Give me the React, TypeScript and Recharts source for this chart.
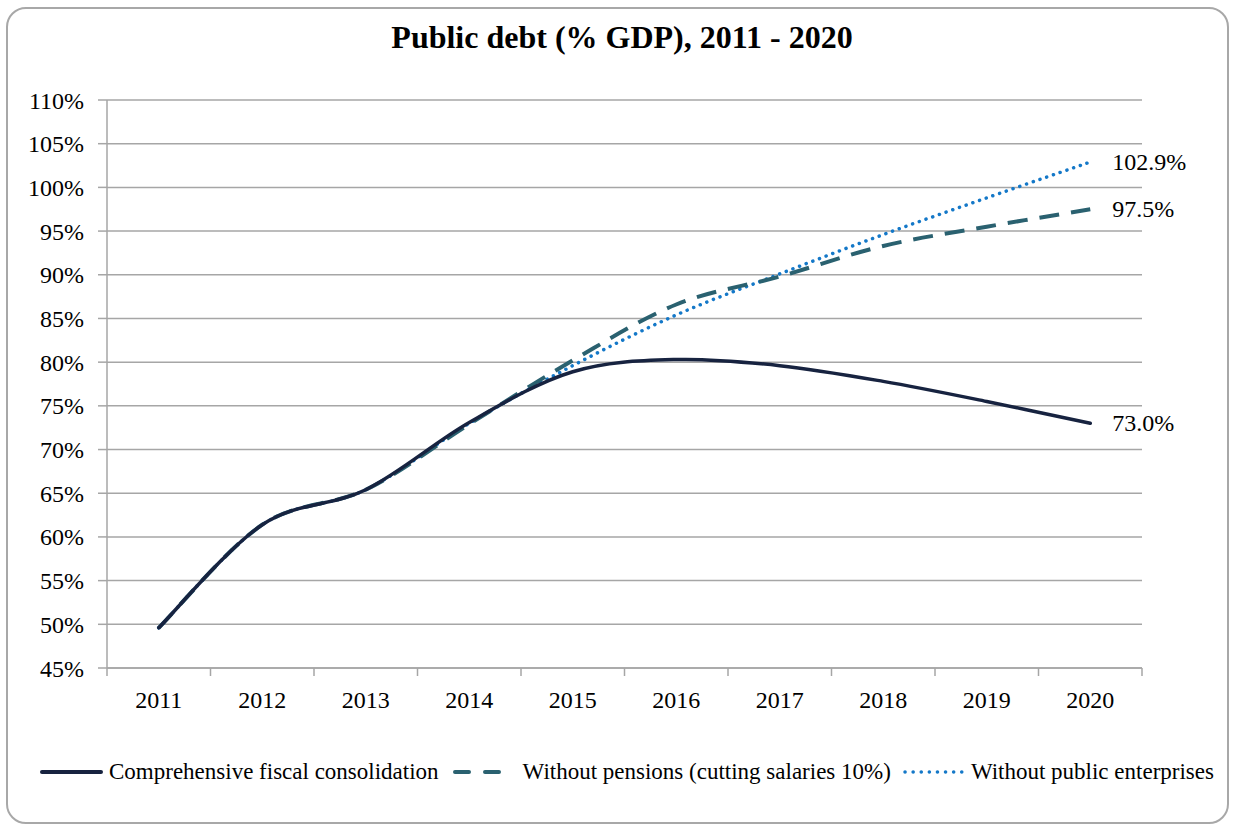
import React from "react";
import { LineChart, Line, XAxis, YAxis, CartesianGrid } from "recharts";

const years = ["2011", "2012", "2013", "2014", "2015", "2016", "2017", "2018", "2019", "2020"];
const comprehensive = [49.6, 61.4, 65.4, 73.1, 78.9, 80.3, 79.6, 77.8, 75.5, 73.0];
const withoutPensions = [49.6, 61.4, 65.4, 72.9, 80.2, 86.6, 89.8, 93.3, 95.5, 97.5];
const withoutPublicEnterprises = [49.6, 61.4, 65.4, 73.0, 79.6, 85.4, 90.1, 94.6, 98.8, 102.9];
const yTicks = [45, 50, 55, 60, 65, 70, 75, 80, 85, 90, 95, 100, 105, 110];

const seriesNames = [
  "Comprehensive fiscal consolidation",
  "Without pensions (cutting salaries 10%)",
  "Without public enterprises",
];

const data = years.map((y, i) => ({
  year: y,
  comprehensive: comprehensive[i],
  withoutPensions: withoutPensions[i],
  withoutPublicEnterprises: withoutPublicEnterprises[i],
}));

const FONT = '"Liberation Serif", "Times New Roman", serif';
const W = 1234;
const H = 826;
const M = { top: 100, right: 92, bottom: 98, left: 0 };
const Y_AXIS_W = 107;
const PLOT_W = W - M.right - M.left - Y_AXIS_W;
const BAND = PLOT_W / years.length;
const GRID = "#a6a6a6";

const C1 = "#172340";
const C2 = "#2a6170";
const C3 = "#1478c8";

// Excel-like smoothed line (Catmull-Rom as cubic Bezier)
const excelSmooth = (context: any) => {
  let pts: number[][] = [];
  return {
    areaStart() {},
    areaEnd() {},
    lineStart() {
      pts = [];
    },
    point(x: number, y: number) {
      pts.push([+x, +y]);
    },
    lineEnd() {
      const n = pts.length;
      if (!n) return;
      context.moveTo(pts[0][0], pts[0][1]);
      for (let i = 0; i < n - 1; i++) {
        const p0 = pts[i - 1] || pts[i];
        const p1 = pts[i];
        const p2 = pts[i + 1];
        const p3 = pts[i + 2] || p2;
        context.bezierCurveTo(
          p1[0] + (p2[0] - p0[0]) / 6,
          p1[1] + (p2[1] - p0[1]) / 6,
          p2[0] - (p3[0] - p1[0]) / 6,
          p2[1] - (p3[1] - p1[1]) / 6,
          p2[0],
          p2[1]
        );
      }
    },
  };
};

const XTick = (props: any) => {
  const { x, y, payload, index } = props;
  return (
    <g>
      <line x1={x - BAND / 2} y1={y} x2={x - BAND / 2} y2={y + 8} stroke={GRID} strokeWidth={1.5} />
      {index === years.length - 1 && (
        <line x1={x + BAND / 2} y1={y} x2={x + BAND / 2} y2={y + 8} stroke={GRID} strokeWidth={1.5} />
      )}
      <text x={x} y={y + 40} textAnchor="middle" fontFamily={FONT} fontSize={24} fill="#000">
        {payload.value}
      </text>
    </g>
  );
};

const endLabel = (props: any) => {
  const { x, y, index, value } = props;
  if (index !== years.length - 1) return <g />;
  return (
    <text x={x + 22} y={y} dominantBaseline="central" fontFamily={FONT} fontSize={24} fill="#000">
      {Number(value).toFixed(1)}%
    </text>
  );
};

const LegendIcon = ({ color, dash, width }: { color: string; dash?: string; width: number }) => (
  <svg width={63} height={12} style={{ display: "block" }}>
    <line x1={2} y1={6} x2={61} y2={6} stroke={color} strokeWidth={width} strokeDasharray={dash} strokeLinecap="round" />
  </svg>
);

export default function App() {
  return (
    <div style={{ position: "absolute", left: 0, top: 0, width: W, height: H, background: "#fff", overflow: "hidden" }}>
      <div
        style={{
          position: "absolute",
          left: 6,
          top: 7,
          width: 1223,
          height: 817,
          boxSizing: "border-box",
          border: "2px solid #a8a8a8",
          borderRadius: 20,
        }}
      />
      <svg width={W} height={80} style={{ position: "absolute", left: 0, top: 0 }}>
        <text x={622} y={48} textAnchor="middle" fontFamily={FONT} fontSize={32} fontWeight="bold" fill="#000">
          Public debt (% GDP), 2011 - 2020
        </text>
      </svg>
      <div style={{ position: "absolute", left: 0, top: 0 }}>
        <LineChart width={W} height={H} data={data} margin={M}>
          <CartesianGrid horizontal vertical={false} stroke={GRID} strokeWidth={1.5} />
          <XAxis
            dataKey="year"
            padding={{ left: BAND / 2, right: BAND / 2 }}
            height={60}
            tickLine={false}
            tickSize={0}
            tickMargin={0}
            axisLine={{ stroke: GRID, strokeWidth: 1.5 }}
            tick={<XTick />}
            interval={0}
          />
          <YAxis
            width={Y_AXIS_W}
            domain={[45, 110]}
            ticks={yTicks}
            interval={0}
            tickFormatter={(v: number) => `${v}%`}
            tickSize={9}
            tickMargin={14}
            tickLine={{ stroke: GRID, strokeWidth: 1.5 }}
            axisLine={{ stroke: GRID, strokeWidth: 1.5 }}
            tick={{ fontFamily: FONT, fontSize: 24, fill: "#000" }}
            allowDataOverflow
          />
          <Line
            dataKey="withoutPublicEnterprises"
            name={seriesNames[2]}
            type={excelSmooth as any}
            stroke={C3}
            strokeWidth={3.5}
            strokeDasharray="0.1 7"
            strokeLinecap="round"
            dot={false}
            activeDot={false}
            isAnimationActive={false}
            label={endLabel}
          />
          <Line
            dataKey="withoutPensions"
            name={seriesNames[1]}
            type={excelSmooth as any}
            stroke={C2}
            strokeWidth={4}
            strokeDasharray="20 12"
            dot={false}
            activeDot={false}
            isAnimationActive={false}
            label={endLabel}
          />
          <Line
            dataKey="comprehensive"
            name={seriesNames[0]}
            type={excelSmooth as any}
            stroke={C1}
            strokeWidth={3.5}
            strokeLinecap="round"
            dot={false}
            activeDot={false}
            isAnimationActive={false}
            label={endLabel}
          />
        </LineChart>
      </div>
      <div
        style={{
          position: "absolute",
          left: 40,
          top: 758,
          height: 28,
          display: "flex",
          alignItems: "center",
          fontFamily: FONT,
          fontSize: 23,
          color: "#000",
          whiteSpace: "nowrap",
        }}
      >
        <LegendIcon color={C1} width={4} />
        <span style={{ marginLeft: 6, marginRight: 14 }}>{seriesNames[0]}</span>
        <LegendIcon color={C2} width={4} dash="14 16" />
        <span style={{ marginLeft: 7, marginRight: 12 }}>{seriesNames[1]}</span>
        <LegendIcon color={C3} width={3.5} dash="0.1 8" />
        <span style={{ marginLeft: 5 }}>{seriesNames[2]}</span>
      </div>
    </div>
  );
}
